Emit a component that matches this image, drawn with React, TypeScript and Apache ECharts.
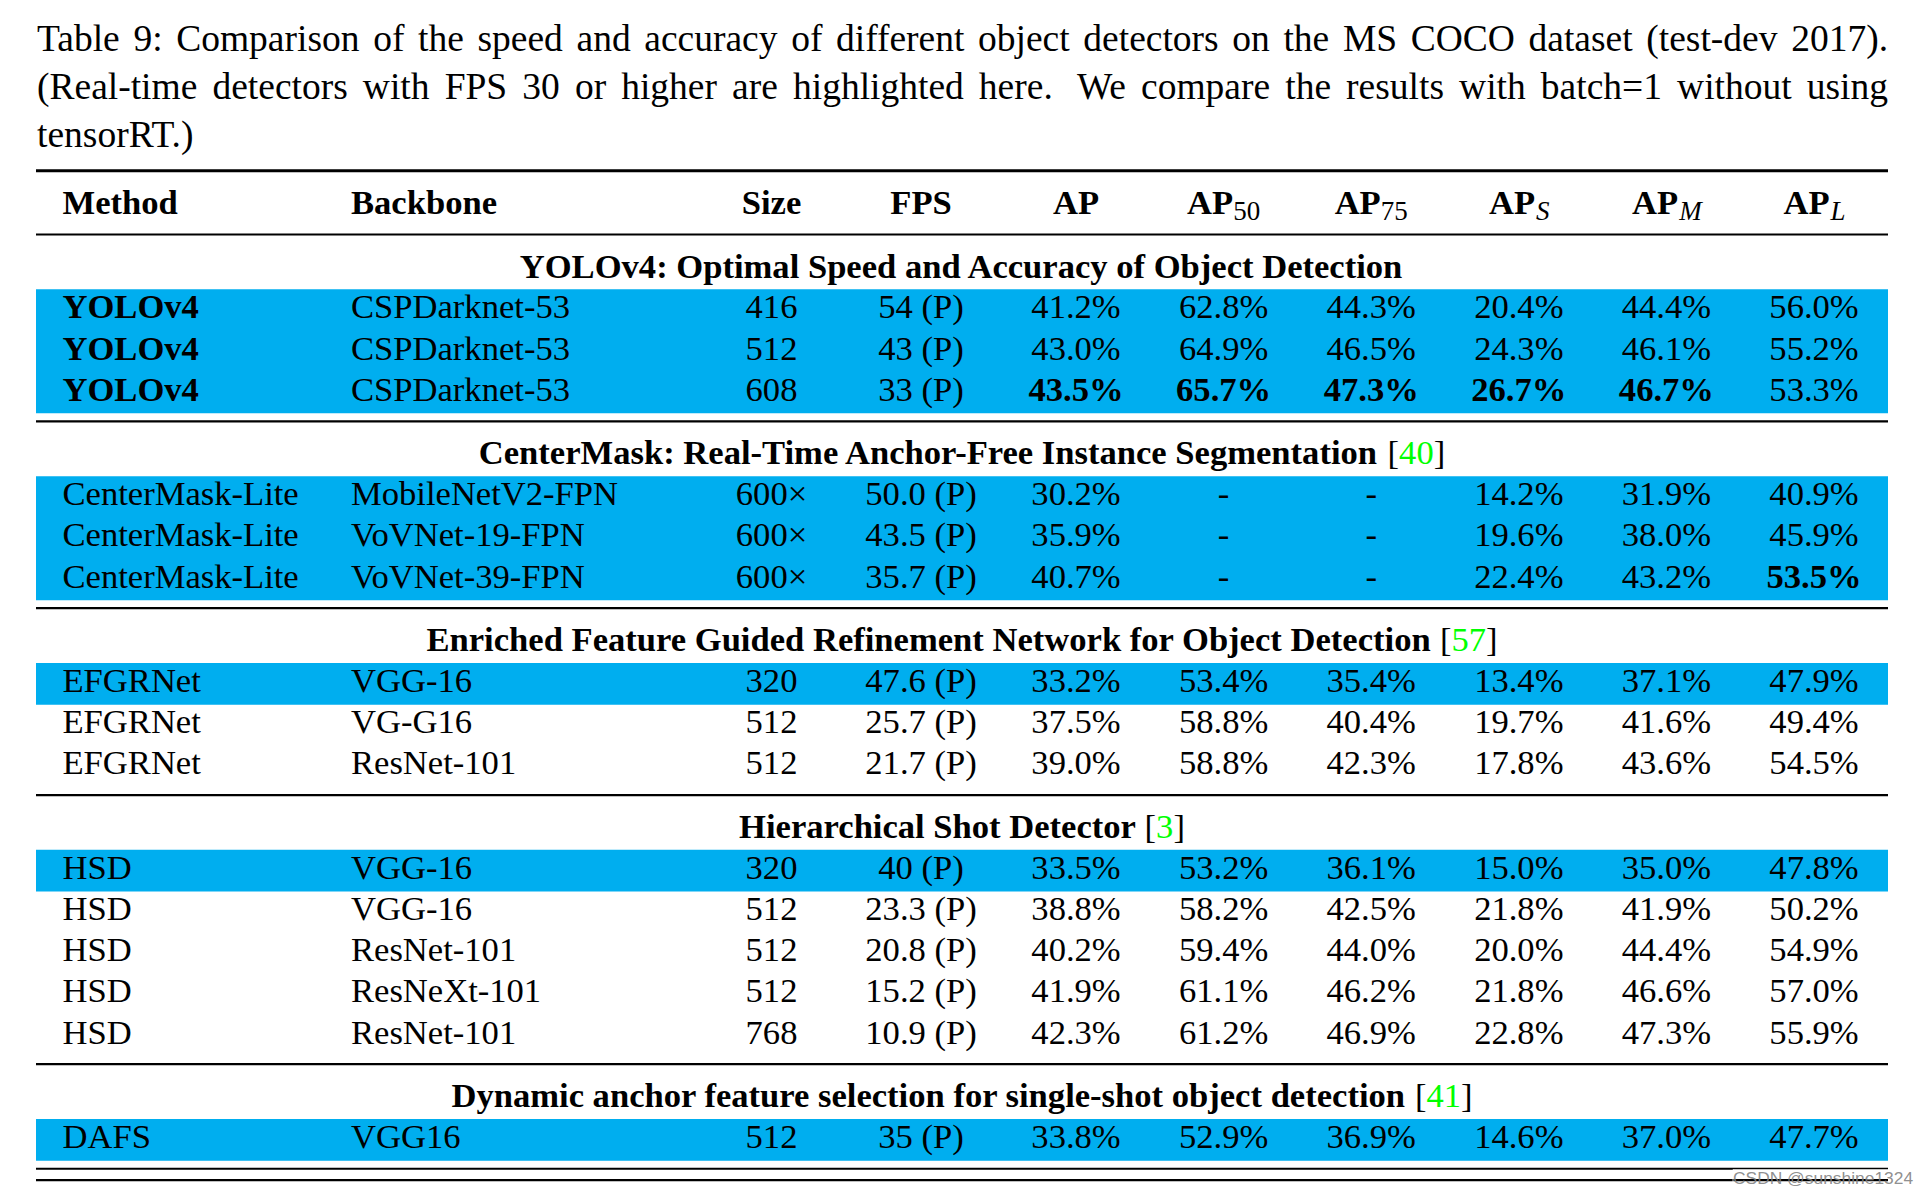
import React, { useEffect, useRef } from "react";
import * as echarts from "echarts";

// ---------- DATA ----------
const captionLines = [
  "Table 9: Comparison of the speed and accuracy of different object detectors on the MS COCO dataset (test-dev 2017).",
  "(Real-time detectors with FPS 30 or higher are highlighted here.  We compare the results with batch=1 without using",
  "tensorRT.)",
];

const headerMain = ["Method", "Backbone", "Size", "FPS", "AP", "AP", "AP", "AP", "AP", "AP"];
const headerSub = ["", "", "", "", "", "50", "75", "S", "M", "L"];
const headerSubItalic = [false, false, false, false, false, false, false, true, true, true];

const sectionTitles = [
  "YOLOv4: Optimal Speed and Accuracy of Object Detection",
  "CenterMask: Real-Time Anchor-Free Instance Segmentation",
  "Enriched Feature Guided Refinement Network for Object Detection",
  "Hierarchical Shot Detector",
  "Dynamic anchor feature selection for single-shot object detection",
];
const sectionCitations = ["", "40", "57", "3", "41"];
const sectionRowCounts = [3, 3, 3, 5, 1];

const methods = [
  "YOLOv4", "YOLOv4", "YOLOv4",
  "CenterMask-Lite", "CenterMask-Lite", "CenterMask-Lite",
  "EFGRNet", "EFGRNet", "EFGRNet",
  "HSD", "HSD", "HSD", "HSD", "HSD",
  "DAFS",
];
const backbones = [
  "CSPDarknet-53", "CSPDarknet-53", "CSPDarknet-53",
  "MobileNetV2-FPN", "VoVNet-19-FPN", "VoVNet-39-FPN",
  "VGG-16", "VG-G16", "ResNet-101",
  "VGG-16", "VGG-16", "ResNet-101", "ResNeXt-101", "ResNet-101",
  "VGG16",
];
const sizes = ["416", "512", "608", "600×", "600×", "600×", "320", "512", "512", "320", "512", "512", "512", "768", "512"];
const fpsLabels = [
  "54 (P)", "43 (P)", "33 (P)",
  "50.0 (P)", "43.5 (P)", "35.7 (P)",
  "47.6 (P)", "25.7 (P)", "21.7 (P)",
  "40 (P)", "23.3 (P)", "20.8 (P)", "15.2 (P)", "10.9 (P)",
  "35 (P)",
];
const apValues = [41.2, 43.0, 43.5, 30.2, 35.9, 40.7, 33.2, 37.5, 39.0, 33.5, 38.8, 40.2, 41.9, 42.3, 33.8];
const ap50Values = [62.8, 64.9, 65.7, null, null, null, 53.4, 58.8, 58.8, 53.2, 58.2, 59.4, 61.1, 61.2, 52.9];
const ap75Values = [44.3, 46.5, 47.3, null, null, null, 35.4, 40.4, 42.3, 36.1, 42.5, 44.0, 46.2, 46.9, 36.9];
const apSValues = [20.4, 24.3, 26.7, 14.2, 19.6, 22.4, 13.4, 19.7, 17.8, 15.0, 21.8, 20.0, 21.8, 22.8, 14.6];
const apMValues = [44.4, 46.1, 46.7, 31.9, 38.0, 43.2, 37.1, 41.6, 43.6, 35.0, 41.9, 44.4, 46.6, 47.3, 37.0];
const apLValues = [56.0, 55.2, 53.3, 40.9, 45.9, 53.5, 47.9, 49.4, 54.5, 47.8, 50.2, 54.9, 57.0, 55.9, 47.7];
// [row, column] of cells set in bold
const boldCells = [[0, 0], [1, 0], [2, 0], [2, 4], [2, 5], [2, 6], [2, 7], [2, 8], [5, 9]];
const watermark = "CSDN @sunshine1324";

// ---------- LAYOUT / STYLE ----------
const SERIF = "'Liberation Serif', 'Times New Roman', serif";
const SANS = "'Liberation Sans', Arial, sans-serif";
const BLUE = "#00AEEF";
const GREEN = "#00FF00";
const L = {
  W: 1930,
  H: 1194,
  left: 36,
  right: 1888,
  captionLeft: 37,
  captionRight: 1888,
  captionBaselines: [50.8, 98.8, 146.8],
  captionSize: 37.5,
  topRuleY: 170.8,
  topRuleW: 3,
  headRuleY: 234.5,
  headRuleW: 2,
  headerBaseline: 214,
  fs: 34.6,
  subFs: 27,
  subShift: 6,
  titleBaselineOff: 42.8,
  firstRowOff: 54.8,
  rowH: 41.15,
  baselineFrac: 0.7,
  ruleGap: 8.6,
  ruleW: 2.2,
  bottomGap: 11.3,
  bottomW1: 1.8,
  bottomW2: 2.3,
  central: 0.3375,
  tableCenter: 962,
  colX: [62.5, 351, 771.5, 921, 1076, 1223.6, 1371.2, 1518.8, 1666.4, 1814],
  colAlign: ["left", "left", "center", "center", "center", "center", "center", "center", "center", "center"],
  wmLeft: 1733,
  wmMid: 1178,
  wmSize: 17.4,
};

const fmtPct = (v: number | null) => (v == null ? "-" : v.toFixed(1) + "%");

function cellText(r: number, c: number): string {
  switch (c) {
    case 0: return methods[r];
    case 1: return backbones[r];
    case 2: return sizes[r];
    case 3: return fpsLabels[r];
    case 4: return fmtPct(apValues[r]);
    case 5: return fmtPct(ap50Values[r]);
    case 6: return fmtPct(ap75Values[r]);
    case 7: return fmtPct(apSValues[r]);
    case 8: return fmtPct(apMValues[r]);
    default: return fmtPct(apLValues[r]);
  }
}

export default function App() {
  const ref = useRef<HTMLDivElement>(null);

  useEffect(() => {
    document.body.style.margin = "0";
    const el = ref.current!;
    const chart = echarts.init(el, null, { renderer: "svg" });

    const ctx = document.createElement("canvas").getContext("2d")!;
    const fontStr = (size: number, weight = "normal", style = "normal", family = SERIF) =>
      `${style} ${weight} ${size}px ${family}`;
    const measure = (t: string, f: string) => {
      ctx.font = f;
      return ctx.measureText(t).width;
    };

    const textEl = (text: string, x: number, y: number, o: any = {}) => ({
      type: "text",
      x,
      y,
      silent: true,
      z: 10,
      style: {
        text,
        fontFamily: o.family || SERIF,
        fontSize: o.size || L.fs,
        fontWeight: o.weight || "normal",
        fontStyle: o.style || "normal",
        fill: o.color || "#000",
        align: o.align || "left",
        verticalAlign: "middle",
        ...(o.extra || {}),
      },
    });
    const ruleEl = (y: number, w: number) => ({
      type: "rect",
      silent: true,
      z: 5,
      shape: { x: L.left, y: y - w / 2, width: L.right - L.left, height: w },
      style: { fill: "#000" },
    });

    const graphic: any[] = [];

    // caption (justified lines)
    captionLines.forEach((line, i) => {
      const mid = L.captionBaselines[i] - L.central * L.captionSize;
      const f = fontStr(L.captionSize);
      const parts = line.split(/( +)/);
      const words = parts.filter((_, k) => k % 2 === 0);
      const gapW = parts.filter((_, k) => k % 2 === 1).map((s) => (s.length > 1 ? 1.6 : 1));
      const wordW = words.map((w) => measure(w, f));
      const total = wordW.reduce((a, b) => a + b, 0);
      const justify = i < captionLines.length - 1;
      const gw = gapW.reduce((a, b) => a + b, 0);
      const unit = justify && gw > 0 ? (L.captionRight - L.captionLeft - total) / gw : measure(" ", f);
      let x = L.captionLeft;
      words.forEach((w, k) => {
        graphic.push(textEl(w, x, mid, { size: L.captionSize }));
        x += wordW[k] + (gapW[k] || 0) * unit;
      });
    });

    // rules
    graphic.push(ruleEl(L.topRuleY, L.topRuleW));
    graphic.push(ruleEl(L.headRuleY, L.headRuleW));

    // header
    const headMid = L.headerBaseline - L.central * L.fs;
    headerMain.forEach((h, c) => {
      const sub = headerSub[c];
      if (!sub) {
        graphic.push(textEl(h, L.colX[c], headMid, { weight: "bold", align: L.colAlign[c] }));
      } else {
        const fMain = fontStr(L.fs, "bold");
        const fSub = fontStr(L.subFs, "normal", headerSubItalic[c] ? "italic" : "normal");
        const wMain = measure(h, fMain);
        const wSub = measure(sub, fSub);
        const start = L.colX[c] - (wMain + wSub) / 2;
        graphic.push(textEl(h, start, headMid, { weight: "bold" }));
        graphic.push(
          textEl(sub, start + wMain + (headerSubItalic[c] ? 1 : 0), L.headerBaseline + L.subShift - L.central * L.subFs, {
            size: L.subFs,
            style: headerSubItalic[c] ? "italic" : "normal",
          })
        );
      }
    });

    // sections: compute row positions
    const rowTop: number[] = [];
    let y = L.headRuleY;
    sectionRowCounts.forEach((n, s) => {
      const tMid = y + L.titleBaselineOff - L.central * L.fs;
      const runs: any[] = [{ text: sectionTitles[s], weight: "bold", color: "#000" }];
      if (sectionCitations[s]) {
        runs.push({ text: " ", weight: "bold", color: "#000" });
        runs.push({ text: "[", weight: "normal", color: "#000" });
        runs.push({ text: sectionCitations[s], weight: "normal", color: GREEN });
        runs.push({ text: "]", weight: "normal", color: "#000" });
      }
      const widths = runs.map((r) => measure(r.text, fontStr(L.fs, r.weight)));
      const total = widths.reduce((a, b) => a + b, 0);
      let x = L.tableCenter - total / 2;
      runs.forEach((r, k) => {
        if (r.text.trim()) graphic.push(textEl(r.text, x, tMid, { weight: r.weight, color: r.color }));
        x += widths[k];
      });
      const top = y + L.firstRowOff;
      for (let i = 0; i < n; i++) rowTop.push(top + i * L.rowH);
      y = top + n * L.rowH + L.ruleGap;
      if (s < sectionRowCounts.length - 1) graphic.push(ruleEl(y, L.ruleW));
    });
    graphic.push(ruleEl(y, L.bottomW1));
    graphic.push(ruleEl(y + L.bottomGap, L.bottomW2));

    // watermark
    graphic.push(
      textEl(watermark, L.wmLeft, L.wmMid, {
        family: SANS,
        size: L.wmSize,
        color: "rgba(130,130,130,0.9)",
        extra: { textBorderColor: "rgba(255,255,255,0.7)", textBorderWidth: 1 },
      })
    );

    const bandRows = methods.map((_, r) => r).filter((r) => parseFloat(fpsLabels[r]) >= 30);
    const cellData: number[][] = [];
    methods.forEach((_, r) => headerMain.forEach((__, c) => cellData.push([c, r])));
    const isBold = (r: number, c: number) => boldCells.some(([br, bc]) => br === r && bc === c);

    const option: any = {
      animation: false,
      backgroundColor: "#fff",
      grid: { left: 0, top: 0, width: L.W, height: L.H, containLabel: false },
      xAxis: { type: "value", min: 0, max: L.W, show: false },
      yAxis: { type: "value", min: 0, max: L.H, inverse: true, show: false },
      tooltip: { show: false },
      series: [
        {
          type: "custom",
          coordinateSystem: "cartesian2d",
          silent: true,
          z: 1,
          data: bandRows.map((r) => [0, r]),
          renderItem: (_p: any, api: any) => {
            const r = api.value(1);
            const a = api.coord([L.left, rowTop[r]]);
            const b = api.coord([L.right, rowTop[r] + L.rowH]);
            return {
              type: "rect",
              shape: { x: a[0], y: a[1], width: b[0] - a[0], height: b[1] - a[1] + 0.6 },
              style: { fill: BLUE },
            };
          },
        },
        {
          type: "custom",
          coordinateSystem: "cartesian2d",
          silent: true,
          z: 3,
          data: cellData,
          renderItem: (_p: any, api: any) => {
            const c = api.value(0);
            const r = api.value(1);
            const mid = rowTop[r] + L.baselineFrac * L.rowH - L.central * L.fs;
            const p = api.coord([L.colX[c], mid]);
            return {
              type: "text",
              x: p[0],
              y: p[1],
              style: {
                text: cellText(r, c),
                fontFamily: SERIF,
                fontSize: L.fs,
                fontWeight: isBold(r, c) ? "bold" : "normal",
                fill: "#000",
                align: L.colAlign[c],
                verticalAlign: "middle",
              },
            };
          },
        },
      ],
      graphic,
    };

    chart.setOption(option);
    return () => chart.dispose();
  }, []);

  return <div ref={ref} style={{ width: 1930, height: 1194 }} />;
}
